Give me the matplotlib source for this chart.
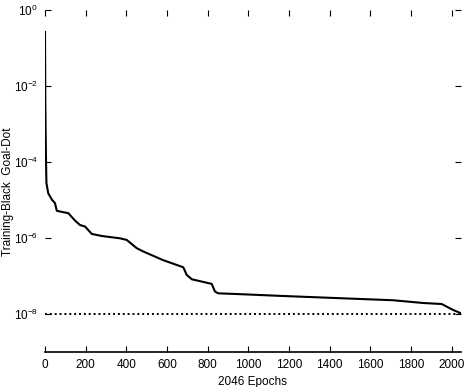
import matplotlib
matplotlib.use("Agg")
import matplotlib.pyplot as plt

plt.rcParams['font.family'] = ['Liberation Sans', 'DejaVu Sans']
plt.rcParams['mathtext.default'] = 'regular'

# training performance
epochs = [0, 1.5, 3, 5, 7, 16, 35, 49, 58, 80, 115, 131, 150, 172, 197, 230,
          279, 369, 402, 451, 484, 582, 680, 697, 722, 820, 836, 852, 975,
          1156, 1712, 1859, 1951, 2007, 2046]
perf = [0.264, 4.3e-3, 6.9e-4, 1.1e-4, 2.8e-5, 1.5e-5, 1.0e-5, 8.3e-6, 5.2e-6,
        4.9e-6, 4.5e-6, 3.6e-6, 2.8e-6, 2.2e-6, 2.0e-6, 1.28e-6, 1.13e-6,
        9.8e-7, 8.9e-7, 5.4e-7, 4.4e-7, 2.6e-7, 1.7e-7, 1.07e-7, 8.2e-8,
        6.2e-8, 3.9e-8, 3.5e-8, 3.3e-8, 3.0e-8, 2.3e-8, 1.95e-8, 1.83e-8,
        1.28e-8, 1.04e-8]
goal = 1e-8
n_epochs = 2046

xticks = [0, 200, 400, 600, 800, 1000, 1200, 1400, 1600, 1800, 2000]
yticks = [1e0, 1e-2, 1e-4, 1e-6, 1e-8]
yticklabels = ['$10^{0}$', '$10^{-2}$', '$10^{-4}$', '$10^{-6}$', '$10^{-8}$']

fig = plt.figure(figsize=(4.66, 3.87), dpi=100)
ax = fig.add_axes([45 / 466, 1 - 352 / 387, 416 / 466, 342 / 387])

ax.semilogy(epochs, perf, color='black', lw=1.5)
ax.plot([0, n_epochs], [goal, goal], color='black', lw=1.4, linestyle=(0, (1, 1.5)))

ax.set_xlim(0, n_epochs)
ax.set_ylim(1e-9, 1e0)
ax.set_xticks(xticks)
ax.set_yticks(yticks)
ax.set_yticklabels(yticklabels)
ax.minorticks_off()

for s in ['left', 'top', 'right']:
    ax.spines[s].set_visible(False)
ax.spines['bottom'].set_linewidth(1.2)

ax.tick_params(direction='in', length=4, width=0.8, top=True, right=True,
               labelsize=8.5, pad=5)

ax.set_xlabel('2046 Epochs', fontsize=8.5)
ax.set_ylabel('Training-Black  Goal-Dot', fontsize=8.5)
ax.xaxis.set_label_coords(0.5, -0.07)
ax.yaxis.set_label_coords(-0.074, 0.47)

fig.savefig('out.png', dpi=100)
